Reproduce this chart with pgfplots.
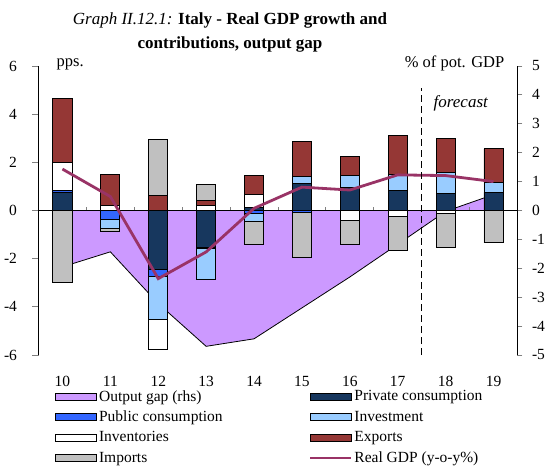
\documentclass[border=0pt]{standalone}
\usepackage{pgfplots}
\usepackage{pgfplotstable}
\pgfplotsset{compat=1.18}
\usepackage{fontspec}
\setmainfont{Liberation Serif}

\definecolor{cgap}{HTML}{CC99FF}
\definecolor{cpriv}{HTML}{17375E}
\definecolor{cpub}{HTML}{3366FF}
\definecolor{cinv}{HTML}{99CCFF}
\definecolor{cstock}{HTML}{FFFFFF}
\definecolor{cexp}{HTML}{953735}
\definecolor{cimp}{HTML}{C0C0C0}
\definecolor{cgdp}{HTML}{993366}

% positive parts of the contributions (pps.)
\pgfplotstableread{
x priv pub inv stock exp imp
0 0.77 0.08 0.00 1.14 2.66 0.00
1 0.00 0.00 0.00 0.20 1.28 0.00
2 0.00 0.00 0.00 0.00 0.62 2.32
3 0.00 0.00 0.00 0.19 0.24 0.64
4 0.12 0.00 0.00 0.56 0.79 0.00
5 1.14 0.00 0.28 0.00 1.43 0.00
6 0.97 0.00 0.49 0.00 0.78 0.00
7 0.82 0.00 0.68 0.00 1.63 0.00
8 0.71 0.00 0.85 0.00 1.42 0.00
9 0.75 0.00 0.42 0.00 1.39 0.00
}\pos
% negative parts of the contributions (pps.)
\pgfplotstableread{
x priv pub inv stock exp imp
0 0.00 0.00 0.00 0.00 0.00 -2.98
1 0.00 -0.38 -0.37 0.00 0.00 -0.14
2 -2.45 -0.27 -1.81 -1.24 0.00 0.00
3 -1.52 -0.05 -1.30 0.00 0.00 0.00
4 0.00 -0.12 -0.35 0.00 0.00 -0.93
5 0.00 -0.10 0.00 0.00 0.00 -1.85
6 0.00 0.00 0.00 -0.42 0.00 -0.98
7 0.00 0.00 0.00 -0.26 0.00 -1.40
8 0.00 0.00 0.00 -0.14 0.00 -1.38
9 0.00 0.00 0.00 0.00 0.00 -1.34
}\negv
% real GDP growth (lhs) and output gap (rhs)
\pgfplotstableread{
x gdp gap
0 1.72 -1.95
1 0.58 -1.43
2 -2.83 -3.22
3 -1.72 -4.70
4 0.09 -4.44
5 0.97 -3.37
6 0.85 -2.30
7 1.48 -1.17
8 1.45 -0.03
9 1.20 0.55
}\lines

\pgfplotsset{
  base/.style={width=479bp, height=289bp, scale only axis,
    xmin=-0.5, xmax=9.5, at={(0bp,0bp)}, anchor=south west,
    tick label style={font=\fontsize{15.5bp}{18bp}\selectfont},
    /pgf/number format/assume math mode=true},
  sw/.style={legend image code/.code={\draw[##1] (0bp,-3.5bp) rectangle (41bp,3.5bp);}},
  ln/.style={legend image code/.code={\draw[##1] (0bp,0bp) -- (41bp,0bp);}},
  barp/.style={draw=black, line width=0.9bp},
}

\begin{document}
\begin{tikzpicture}
% right axis: output gap area
\begin{axis}[base, ymin=-5, ymax=5, axis y line*=right, axis x line=none,
  ytick={-5,-4,...,5}, ytick align=outside, major tick length=5bp,
  y axis line style={line width=0.8bp}, ytick style={line width=0.8bp},
  yticklabel style={anchor=west, xshift=6bp}]
\addplot[fill=cgap, draw=none] table[x=x, y=gap]{\lines} \closedcycle;
\addplot[black, line width=0.8bp] table[x=x, y=gap]{\lines};
\end{axis}
% left axis: positive contributions
\begin{axis}[base, ybar stacked, bar width=0.4, ymin=-6, ymax=6,
  axis y line*=left, axis x line*=bottom, x axis line style={draw=none},
  xtick={0,...,9}, xticklabels={10,11,12,13,14,15,16,17,18,19}, xtick style={draw=none},
  xticklabel style={anchor=base, yshift=-31bp},
  ytick={-6,-4,...,6}, ytick align=outside, major tick length=6bp,
  y axis line style={line width=0.8bp}, ytick style={line width=0.8bp},
  yticklabel style={anchor=east, xshift=-12bp}]
\addplot[barp, fill=cpriv] table[x=x, y=priv]{\pos};
\addplot[barp, fill=cpub] table[x=x, y=pub]{\pos};
\addplot[barp, fill=cinv] table[x=x, y=inv]{\pos};
\addplot[barp, fill=cstock] table[x=x, y=stock]{\pos};
\addplot[barp, fill=cexp] table[x=x, y=exp]{\pos};
\addplot[barp, fill=cimp] table[x=x, y=imp]{\pos};
\end{axis}
% left axis: negative contributions
\begin{axis}[base, ybar stacked, bar width=0.4, ymin=-6, ymax=6, hide axis]
\addplot[barp, fill=cpriv] table[x=x, y=priv]{\negv};
\addplot[barp, fill=cpub] table[x=x, y=pub]{\negv};
\addplot[barp, fill=cinv] table[x=x, y=inv]{\negv};
\addplot[barp, fill=cstock] table[x=x, y=stock]{\negv};
\addplot[barp, fill=cexp] table[x=x, y=exp]{\negv};
\addplot[barp, fill=cimp] table[x=x, y=imp]{\negv};
\end{axis}
% zero line, GDP line, forecast marker, legend
\begin{axis}[base, ymin=-6, ymax=6, axis x line*=middle, axis y line=none,
  xtick={0.5,1.5,...,8.5}, xticklabels={}, xtick align=center, major tick length=4bp,
  x axis line style={line width=0.9bp}, xtick style={line width=0.8bp, yshift=2bp},
  legend columns=2, legend cell align=left,
  legend style={draw=none, fill=none, at={(0.0282,-0.108)}, anchor=north west,
    font=\fontsize{15.5bp}{18bp}\selectfont, row sep=4.4bp,
    /tikz/every even column/.append style={column sep=84bp}}]
\addlegendimage{sw, barp, fill=cgap}
\addlegendimage{sw, barp, fill=cpriv}
\addlegendimage{sw, barp, fill=cpub}
\addlegendimage{sw, barp, fill=cinv}
\addlegendimage{sw, barp, fill=cstock}
\addlegendimage{sw, barp, fill=cexp}
\addlegendimage{sw, barp, fill=cimp}
\addplot[ln, cgdp, line width=2.8bp] table[x=x, y=gdp]{\lines};
\addplot[black, line width=1.1bp, dash pattern=on 7bp off 4bp] coordinates {(7.5,-6) (7.5,5.1)};
\legend{Output gap (rhs), Private consumption, Public consumption, Investment, Inventories, Exports, Imports, Real GDP (y-o-y\%)}
\end{axis}
\node[anchor=base, inner sep=0pt, font=\fontsize{17bp}{20bp}\selectfont] at (191.5bp,330bp) {\textit{Graph II.12.1:} \textbf{Italy - Real GDP growth and}};
\node[anchor=base, inner sep=0pt, font=\fontsize{17bp}{20bp}\selectfont] at (191.5bp,306bp) {\textbf{contributions, output gap}};
\node[anchor=base west, inner sep=0pt, font=\fontsize{16.5bp}{20bp}\selectfont] at (18bp,288bp) {pps.};
\node[anchor=base east, inner sep=0pt, font=\fontsize{16.5bp}{20bp}\selectfont] at (466bp,287bp) {\% of pot. GDP};
\node[anchor=base west, inner sep=0pt, font=\fontsize{17bp}{20bp}\selectfont\itshape] at (395bp,247bp) {forecast};
\pgfresetboundingbox
\useasboundingbox (-38.5bp,-111bp) rectangle (510.5bp,355bp);
\end{tikzpicture}
\end{document}
